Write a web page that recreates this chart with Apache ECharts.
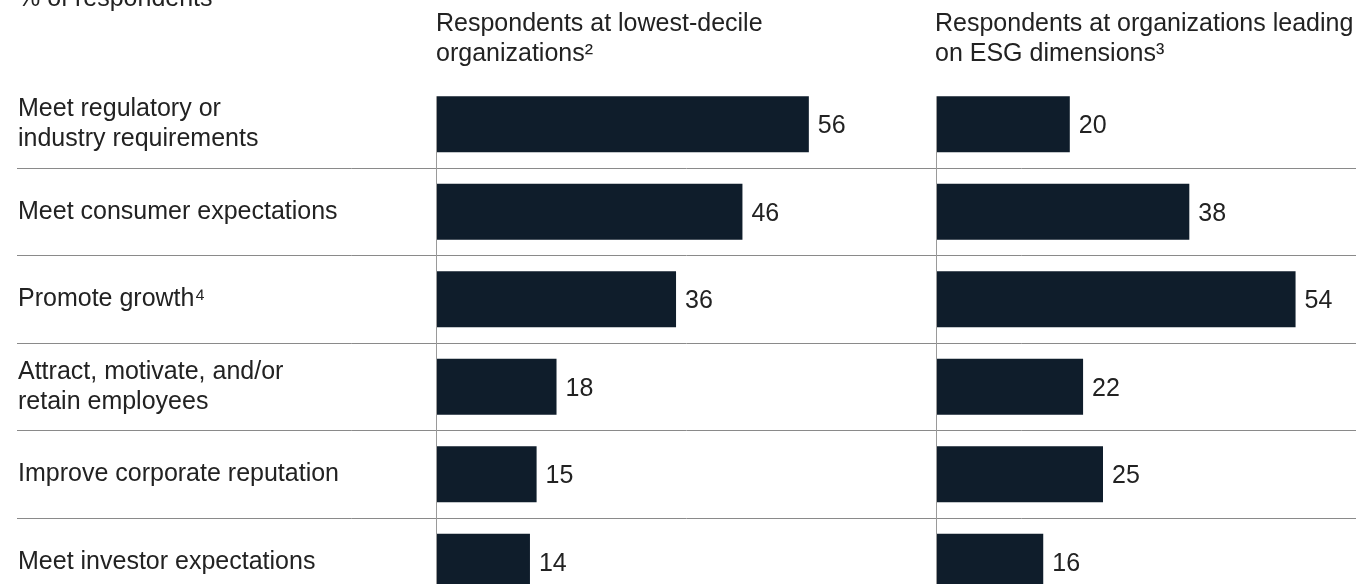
<!DOCTYPE html>
<html>
<head>
<meta charset="utf-8">
<style>
  html, body { margin: 0; padding: 0; background: #ffffff; }
  #chart { width: 1356px; height: 584px; }
</style>
<script src="https://cdn.jsdelivr.net/npm/echarts@6/dist/echarts.min.js"></script>
</head>
<body>
<div id="chart"></div>
<script>
// Reasons for pursuing ESG, % of respondents
const categories = [
  'Meet regulatory or\nindustry requirements',
  'Meet consumer expectations',
  'Promote growth\u2074',
  'Attract, motivate, and/or\nretain employees',
  'Improve corporate reputation',
  'Meet investor expectations'
];
const lowestDecile = [56, 46, 36, 18, 15, 14];
const esgLeaders = [20, 38, 54, 22, 25, 16];

const unitLabel = '% of respondents';
const panelTitles = [
  'Respondents at lowest-decile\norganizations\u00b2',
  'Respondents at organizations leading\non ESG dimensions\u00b3'
];

const FONT = '"Liberation Sans", Arial, Helvetica, sans-serif';
const TEXT = '#222222';
const BAR = '#0f1d2b';
const BAR_WIDTH = 56;
const PX_PER_UNIT = 6.64;
const AXIS_MAX = 60;

const chart = echarts.init(document.getElementById('chart'), null, { renderer: 'canvas' });

function barSeries(idx, data) {
  return {
    type: 'bar',
    xAxisIndex: idx,
    yAxisIndex: idx,
    data: data,
    barWidth: BAR_WIDTH,
    itemStyle: { color: BAR },
    silent: true,
    z: 3,
    label: {
      show: true,
      position: 'right',
      distance: 9,
      offset: [0, 2],
      color: TEXT,
      fontFamily: FONT,
      fontSize: 25
    }
  };
}

// six rows of 87.5px; the last row runs past the bottom edge
const rowGrid = { top: 80.5, height: 525 };

const titleStyle = { fontFamily: FONT, fontSize: 25, fontWeight: 'normal', color: TEXT, lineHeight: 30 };

function rowGridAt(left, width) {
  const g = { left: left, top: rowGrid.top, height: rowGrid.height, outerBoundsMode: 'none', containLabel: false };
  if (width == null) g.right = 0; else g.width = width;
  return g;
}

chart.setOption({
  backgroundColor: '#ffffff',
  animation: false,
  title: [
    { text: panelTitles[0], left: 436, top: 9, padding: 0, textStyle: titleStyle },
    { text: panelTitles[1], left: 935, top: 9, padding: 0, textStyle: titleStyle }
  ],
  grid: [
    // full-width rows: category names and row separators
    rowGridAt(17, null),
    rowGridAt(437, AXIS_MAX * PX_PER_UNIT),
    rowGridAt(937, AXIS_MAX * PX_PER_UNIT)
  ],
  xAxis: [0, 1, 2].map(i => ({
    type: 'value', gridIndex: i, min: 0, max: i === 0 ? 1 : AXIS_MAX, show: false
  })),
  yAxis: [
    {
      type: 'category', gridIndex: 0, data: categories, inverse: true,
      axisLine: { show: false }, axisTick: { show: false },
      axisLabel: {
        inside: true, margin: 1, align: 'left',
        padding: [4, 0, 0, 0],
        color: TEXT, fontFamily: FONT, fontSize: 25, lineHeight: 30
      },
      splitLine: { show: true, showMinLine: false, lineStyle: { color: '#8a8a8a', width: 1 } }
    },
    {
      type: 'category', gridIndex: 1, data: categories, inverse: true,
      axisLine: { show: false }, axisTick: { show: false }, axisLabel: { show: false }, splitLine: { show: false }
    },
    {
      type: 'category', gridIndex: 2, data: categories, inverse: true,
      axisLine: { show: false }, axisTick: { show: false }, axisLabel: { show: false }, splitLine: { show: false }
    }
  ],
  series: [
    barSeries(1, lowestDecile),
    barSeries(2, esgLeaders)
  ]
});

// Baseline rules for each panel start at the top of the first bar
const graphics = [
  {
    type: 'text', left: 18, top: -13, silent: true,
    style: { text: unitLabel, fill: TEXT, font: '25px ' + FONT }
  }
];
[1, 2].forEach(gi => {
  const top = chart.convertToPixel({ gridIndex: gi }, [0, categories[0]]);
  const x = Math.round(top[0]) - 0.5;
  const y0 = top[1] - BAR_WIDTH / 2;
  graphics.push({
    type: 'line', silent: true, z: 1,
    shape: { x1: x, y1: y0, x2: x, y2: chart.getHeight() },
    style: { stroke: '#9a9a9a', lineWidth: 1 }
  });
});
chart.setOption({ graphic: graphics });
</script>
</body>
</html>
